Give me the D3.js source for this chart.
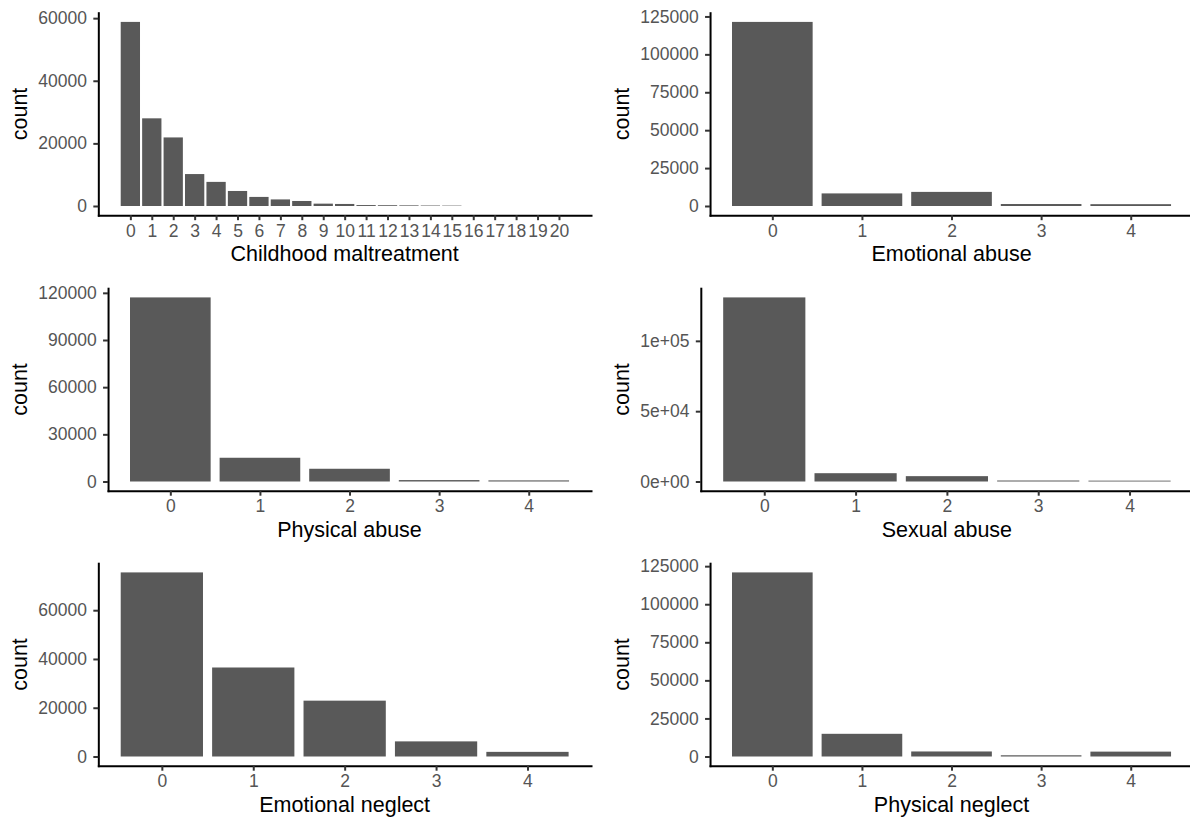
<!DOCTYPE html>
<head>
  <meta charset="utf-8">
  <style>
    body { margin: 0; background: #fff; }
    svg text { font-family: "Liberation Sans", Arial, sans-serif; }
  </style>
</head>
<body>
<script src="https://cdnjs.cloudflare.com/ajax/libs/d3/7.8.5/d3.min.js"></script>
<script>

// ---- data ----
var maltreatScores = [0, 1, 2, 3, 4, 5, 6, 7, 8, 9, 10, 11, 12, 13, 14, 15];
var maltreatCounts = [58800, 28000, 21900, 10200, 7700, 4800, 2900, 2100, 1600, 750, 650, 300, 250, 200, 150, 120];
var maltreatTicksX = [0, 1, 2, 3, 4, 5, 6, 7, 8, 9, 10, 11, 12, 13, 14, 15, 16, 17, 18, 19, 20];
var maltreatTicksY = [0, 20000, 40000, 60000];

var subScores = [0, 1, 2, 3, 4];
var subTicksX = [0, 1, 2, 3, 4];

var emoAbuseCounts    = [121400, 8300, 9300, 1300, 1200];
var physAbuseCounts   = [117100, 15100, 8100, 900, 700];
var sexAbuseCounts    = [130900, 5900, 3800, 700, 600];
var emoNeglectCounts  = [75500, 36500, 22900, 6200, 1900];
var physNeglectCounts = [120900, 14900, 3300, 800, 3200];

var ticks125k = [0, 25000, 50000, 75000, 100000, 125000];
var ticks120k = [0, 30000, 60000, 90000, 120000];
var ticksSex = [0, 50000, 100000];
var ticksSexLabels = ["0e+00", "5e+04", "1e+05"];
var ticks60k = [0, 20000, 40000, 60000];

var panels = [
  {title: "Childhood maltreatment", x: maltreatScores, y: maltreatCounts, xticks: maltreatTicksX, yticks: maltreatTicksY},
  {title: "Emotional abuse", x: subScores, y: emoAbuseCounts, xticks: subTicksX, yticks: ticks125k},
  {title: "Physical abuse", x: subScores, y: physAbuseCounts, xticks: subTicksX, yticks: ticks120k},
  {title: "Sexual abuse", x: subScores, y: sexAbuseCounts, xticks: subTicksX, yticks: ticksSex, ylabels: ticksSexLabels},
  {title: "Emotional neglect", x: subScores, y: emoNeglectCounts, xticks: subTicksX, yticks: ticks60k},
  {title: "Physical neglect", x: subScores, y: physNeglectCounts, xticks: subTicksX, yticks: ticks125k}
];

// ---- layout ----
var W = 1190, H = 819;
var colX = [0, 602];
var rowY = [0, 275.5, 550.5];
var plotTop = 12.7, plotH = 202.5, plotRight = 591;
var tickFont = 17.5, titleFont = 21.5;
var barWidth = 0.9;

var svg = d3.select("body").append("svg")
    .attr("width", W)
    .attr("height", H);

// measure tick label width so the axis sits where ggplot would put it
var probe = svg.append("text").style("font-size", tickFont + "px");
function textWidth(s) {
  probe.text(s);
  return probe.node().getComputedTextLength();
}

panels.forEach(function(p, i) {
  var cx = colX[i % 2], ry = rowY[Math.floor(i / 2)];
  var fmt = p.ylabels ? function(d, j) { return p.ylabels[j]; } : d3.format("d");
  var labelW = d3.max(p.yticks, function(d, j) { return textWidth(fmt(d, j)); });

  var left = cx + 38.35 + labelW + 11.3;
  var right = cx + plotRight;
  var top = ry + plotTop, bottom = top + plotH;

  // continuous scales with ggplot's 5% expansion
  var xlo = d3.min(p.x) - barWidth / 2;
  var xhi = d3.max(p.xticks.concat(p.x)) + barWidth / 2;
  var xpad = (xhi - xlo) * 0.05;
  var x = d3.scaleLinear().domain([xlo - xpad, xhi + xpad]).range([left, right]);

  var ymax = d3.max(p.y);
  var y = d3.scaleLinear().domain([-0.05 * ymax, 1.05 * ymax]).range([bottom, top]);

  var g = svg.append("g");

  g.selectAll("rect.bar")
    .data(p.x)
    .enter()
    .append("rect")
      .attr("class", "bar")
      .attr("x", function(d) { return x(d - barWidth / 2); })
      .attr("width", function(d) { return x(d + barWidth / 2) - x(d - barWidth / 2); })
      .attr("y", function(d, j) { return y(p.y[j]); })
      .attr("height", function(d, j) { return y(0) - y(p.y[j]); })
      .attr("fill", "#595959");

  var yAxis = g.append("g")
      .attr("transform", "translate(" + left + ",0)")
      .call(d3.axisLeft(y)
        .tickValues(p.yticks)
        .tickFormat(fmt)
        .tickSize(5)
        .tickSizeOuter(0)
        .tickPadding(6.3));

  var xAxis = g.append("g")
      .attr("transform", "translate(0," + bottom + ")")
      .call(d3.axisBottom(x)
        .tickValues(p.xticks)
        .tickFormat(d3.format("d"))
        .tickSize(5)
        .tickSizeOuter(0)
        .tickPadding(4));

  [yAxis, xAxis].forEach(function(a) {
    a.select(".domain")
      .attr("stroke", "#000")
      .attr("stroke-width", 2)
      .attr("stroke-linecap", "square");
    a.selectAll(".tick line")
      .attr("stroke", "#333333")
      .attr("stroke-width", 2);
    a.selectAll(".tick text")
      .attr("fill", "#555555")
      .style("font-size", tickFont + "px")
      .attr("font-family", null);
    a.attr("font-family", null).attr("font-size", null);
  });

  g.append("text")
    .attr("x", (left + right) / 2)
    .attr("y", bottom + 46)
    .attr("text-anchor", "middle")
    .style("font-size", titleFont + "px")
    .attr("fill", "#000")
    .text(p.title);

  g.append("text")
    .attr("transform", "translate(" + (cx + 27) + "," + ((top + bottom) / 2) + ") rotate(-90)")
    .attr("text-anchor", "middle")
    .style("font-size", titleFont + "px")
    .attr("fill", "#000")
    .text("count");
});

probe.remove();

</script>
</body>
